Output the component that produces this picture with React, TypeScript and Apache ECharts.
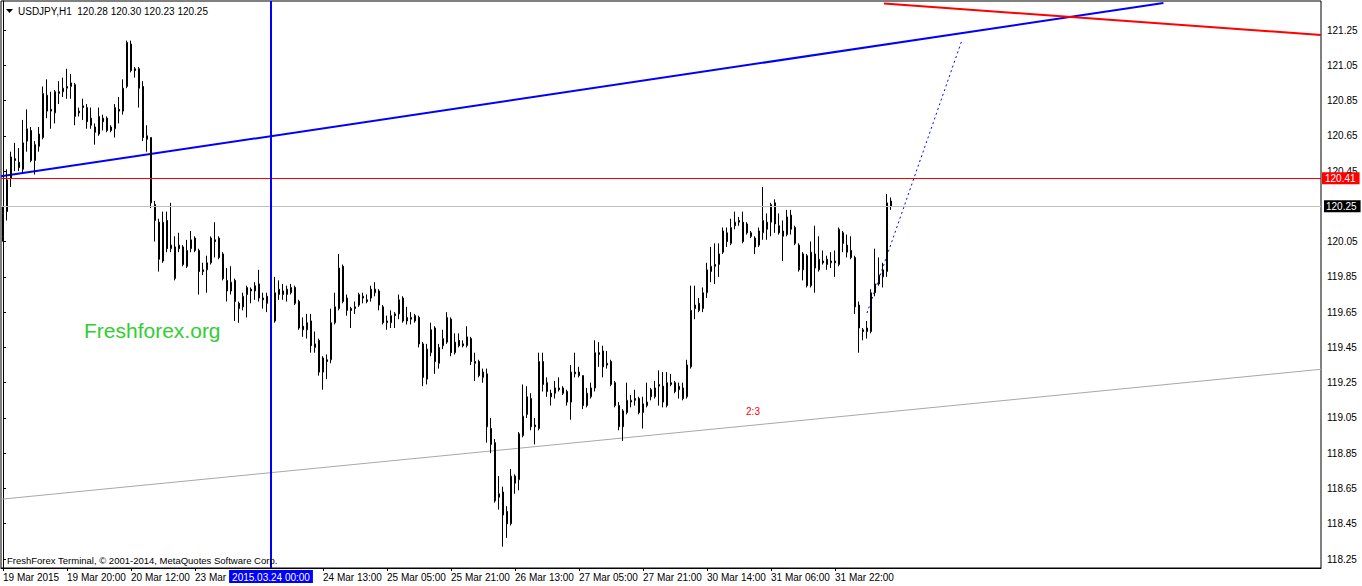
import React, { useEffect, useRef } from "react";
import * as echarts from "echarts";

// ---------- data ----------
const SYMBOL = "USDJPY,H1";
const SLOT_COUNT = 330; // visible hourly slots (chart shifted to the right)
const categories: string[] = Array.from({ length: SLOT_COUNT }, (_, i) => String(i));

// hourly candles: [open, close, low, high]
const ohlc: number[][] = [
  [120.08,120.21,120.05,120.25],[120.22,120.40,120.17,120.46],[120.41,120.53,120.36,120.56],[120.52,120.51,120.45,120.61],
  [120.50,120.47,120.45,120.58],[120.46,120.61,120.44,120.74],[120.62,120.69,120.56,120.80],[120.68,120.51,120.50,120.70],
  [120.51,120.60,120.43,120.62],[120.59,120.66,120.56,120.70],[120.64,120.89,120.63,120.93],[120.88,120.79,120.75,120.97],
  [120.80,120.79,120.69,120.90],[120.78,120.90,120.72,120.91],[120.89,120.90,120.83,120.96],[120.90,120.92,120.87,120.98],
  [120.92,120.93,120.86,121.03],[120.93,120.95,120.86,121.00],[120.94,120.76,120.71,120.95],[120.78,120.79,120.76,120.81],
  [120.82,120.81,120.74,120.86],[120.81,120.73,120.69,120.83],[120.75,120.71,120.69,120.81],[120.70,120.67,120.60,120.72],
  [120.66,120.76,120.65,120.81],[120.75,120.73,120.68,120.77],[120.75,120.68,120.67,120.76],[120.70,120.68,120.67,120.71],
  [120.69,120.81,120.64,120.83],[120.80,120.79,120.72,120.87],[120.79,120.92,120.77,120.97],[120.93,121.18,120.92,121.19],
  [121.17,121.02,121.01,121.19],[121.03,121.02,120.98,121.04],[121.03,120.92,120.81,121.04],[120.93,120.64,120.62,120.96],
  [120.65,120.63,120.56,120.71],[120.64,120.27,120.24,120.64],[120.26,120.17,120.05,120.28],[120.16,119.95,119.88,120.18],
  [119.94,120.16,119.93,120.22],[120.17,120.01,119.99,120.22],[120.01,120.03,119.99,120.27],[119.84,120.02,119.83,120.08],
  [120.03,120.01,119.99,120.10],[120.02,119.92,119.91,120.03],[119.91,120.00,119.90,120.06],[120.01,120.06,119.99,120.11],
  [120.07,120.00,119.99,120.08],[120.00,119.88,119.75,120.01],[119.89,119.88,119.86,119.93],[119.89,119.93,119.76,119.97],
  [119.93,120.07,119.92,120.08],[120.06,120.05,119.96,120.16],[120.07,119.96,119.95,120.08],[119.98,119.84,119.83,119.99],
  [119.83,119.77,119.71,119.90],[119.77,119.82,119.75,119.91],[119.83,119.71,119.60,119.84],[119.70,119.67,119.59,119.71],
  [119.68,119.74,119.66,119.76],[119.75,119.79,119.62,119.80],[119.78,119.77,119.70,119.79],[119.77,119.80,119.72,119.82],
  [119.81,119.73,119.71,119.89],[119.73,119.72,119.67,119.76],[119.74,119.70,119.65,119.76],[119.69,119.62,119.57,119.70],
  [119.60,119.76,119.59,119.85],[119.75,119.78,119.72,119.83],[119.75,119.77,119.72,119.81],[119.75,119.78,119.71,119.80],
  [119.76,119.79,119.75,119.81],[119.79,119.70,119.69,119.80],[119.71,119.56,119.55,119.72],[119.57,119.55,119.51,119.62],
  [119.55,119.59,119.50,119.64],[119.60,119.46,119.42,119.64],[119.47,119.45,119.42,119.54],[119.49,119.31,119.29,119.50],
  [119.39,119.31,119.21,119.40],[119.38,119.37,119.27,119.41],[119.38,119.59,119.36,119.67],[119.59,119.68,119.58,119.76],
  [119.67,119.90,119.66,119.98],[119.91,119.71,119.70,119.92],[119.73,119.66,119.63,119.75],[119.67,119.66,119.56,119.68],
  [119.67,119.68,119.64,119.71],[119.69,119.75,119.68,119.76],[119.74,119.73,119.70,119.76],[119.72,119.71,119.70,119.75],
  [119.73,119.78,119.71,119.80],[119.76,119.78,119.74,119.82],[119.77,119.69,119.66,119.78],[119.68,119.59,119.58,119.69],
  [119.59,119.60,119.55,119.63],[119.59,119.63,119.56,119.66],[119.64,119.63,119.56,119.65],[119.64,119.72,119.61,119.75],
  [119.73,119.60,119.59,119.74],[119.62,119.60,119.58,119.68],[119.62,119.61,119.58,119.65],[119.63,119.60,119.59,119.64],
  [119.62,119.47,119.45,119.63],[119.47,119.28,119.23,119.48],[119.27,119.44,119.24,119.47],[119.42,119.55,119.40,119.59],
  [119.56,119.37,119.30,119.57],[119.36,119.45,119.33,119.47],[119.46,119.50,119.44,119.55],[119.48,119.62,119.47,119.65],
  [119.61,119.42,119.40,119.62],[119.42,119.48,119.41,119.53],[119.49,119.46,119.45,119.53],[119.47,119.46,119.45,119.49],
  [119.46,119.51,119.45,119.57],[119.50,119.37,119.35,119.51],[119.37,119.36,119.26,119.42],[119.37,119.29,119.28,119.38],
  [119.28,119.31,119.25,119.33],[119.30,119.00,118.91,119.33],[118.99,118.90,118.85,119.05],[118.91,118.58,118.57,118.93],
  [118.60,118.62,118.53,118.72],[118.63,118.50,118.32,118.66],[118.52,118.45,118.37,118.55],[118.45,118.72,118.44,118.76],
  [118.72,118.68,118.62,118.73],[118.70,118.96,118.64,118.97],[118.95,119.06,118.94,119.24],[119.07,119.17,119.05,119.23],
  [119.16,119.00,118.98,119.19],[119.01,119.00,118.90,119.05],[118.99,119.37,118.98,119.42],[119.37,119.24,119.20,119.42],
  [119.25,119.20,119.17,119.28],[119.19,119.17,119.12,119.21],[119.19,119.22,119.16,119.26],[119.22,119.21,119.20,119.28],
  [119.22,119.19,119.18,119.23],[119.20,119.14,119.12,119.21],[119.14,119.31,119.04,119.35],[119.30,119.31,119.28,119.42],
  [119.31,119.29,119.28,119.34],[119.29,119.12,119.10,119.29],[119.12,119.19,119.11,119.22],[119.17,119.22,119.16,119.25],
  [119.22,119.42,119.20,119.49],[119.42,119.41,119.34,119.48],[119.43,119.34,119.28,119.46],[119.35,119.36,119.33,119.43],
  [119.37,119.24,119.23,119.38],[119.25,119.12,119.11,119.26],[119.12,119.00,118.98,119.14],[119.00,119.09,118.92,119.10],
  [119.08,119.15,119.07,119.25],[119.14,119.15,119.11,119.18],[119.16,119.15,119.12,119.21],[119.16,119.08,119.07,119.17],
  [119.08,119.13,118.99,119.17],[119.12,119.14,119.11,119.25],[119.21,119.17,119.15,119.22],[119.17,119.22,119.16,119.26],
  [119.23,119.24,119.12,119.32],[119.23,119.14,119.11,119.31],[119.12,119.25,119.11,119.31],[119.25,119.24,119.23,119.30],
  [119.25,119.20,119.19,119.26],[119.21,119.23,119.16,119.25],[119.22,119.16,119.15,119.25],[119.17,119.35,119.16,119.38],
  [119.34,119.66,119.33,119.80],[119.67,119.69,119.61,119.80],[119.70,119.66,119.65,119.73],[119.67,119.76,119.65,119.79],
  [119.76,119.89,119.73,119.93],[119.88,119.91,119.82,120.02],[119.92,119.91,119.81,120.04],[119.92,119.98,119.85,120.04],
  [119.99,120.11,119.98,120.13],[120.10,120.05,120.02,120.13],[120.04,120.13,120.03,120.18],[120.14,120.16,120.12,120.22],
  [120.16,120.17,120.14,120.19],[120.16,120.05,120.04,120.22],[120.15,120.10,120.09,120.16],[120.10,120.08,120.07,120.11],
  [120.07,120.02,119.98,120.08],[120.03,120.11,120.02,120.13],[120.10,120.17,120.06,120.36],[120.16,120.12,120.06,120.21],
  [120.16,120.26,120.08,120.27],[120.27,120.15,120.10,120.29],[120.14,120.10,120.09,120.21],[120.11,120.08,119.94,120.17],
  [120.09,120.19,120.08,120.23],[120.20,120.12,120.09,120.23],[120.13,120.04,120.03,120.14],[120.03,119.89,119.88,120.04],
  [119.89,119.98,119.83,119.99],[119.97,119.80,119.79,119.98],[119.80,119.99,119.79,120.05],[119.98,119.90,119.76,120.14],
  [119.89,119.95,119.88,120.08],[119.94,119.93,119.92,120.00],[119.95,119.92,119.89,119.97],[119.93,119.94,119.90,119.99],
  [119.94,119.93,119.85,120.00],[119.92,120.12,119.91,120.13],[120.10,120.04,119.99,120.11],[120.03,119.99,119.96,120.09],
  [120.00,119.96,119.95,120.08],[119.96,119.68,119.64,119.97],[119.69,119.56,119.42,119.71],[119.55,119.54,119.49,119.56],
  [119.54,119.56,119.50,119.60],[119.54,119.76,119.53,119.78],[119.76,119.81,119.74,120.01],[119.81,119.86,119.80,119.96],
  [119.85,119.89,119.79,119.93],[119.88,120.27,119.85,120.32],[120.28,120.25,120.23,120.30],
];

// time-axis labels: [slot index, label]
const timeTicks: [number, string][] = [
  [0, "19 Mar 2015"], [16, "19 Mar 20:00"], [32, "20 Mar 12:00"], [48, "23 Mar 05:00"],
  [80, "24 Mar 13:00"], [96, "25 Mar 05:00"], [112, "25 Mar 21:00"], [128, "26 Mar 13:00"],
  [144, "27 Mar 05:00"], [160, "27 Mar 21:00"], [176, "30 Mar 14:00"], [192, "31 Mar 06:00"],
  [208, "31 Mar 22:00"],
];

const priceTicks = [118.25, 118.45, 118.65, 118.85, 119.05, 119.25, 119.45, 119.65, 119.85,
  120.05, 120.25, 120.45, 120.65, 120.85, 121.05, 121.25];

// drawn objects (slot index, price)
const channelTop = [[-0.5, 120.42], [290.1, 121.403]];
const redTrend = [[220.25, 121.4], [329.5, 121.222]];
const channelBottom = [[-0.5, 118.589], [329.5, 119.326]];
const forecast = [[216, 119.645], [239.75, 121.193]];
const resistanceLevel = 120.41;
const bidLevel = 120.25;
const markerSlot = 67;
const markerLabel = "2015.03.24 00:00";
const channelNote = { slot: 187.5, price: 119.084, text: "2:3" };
const watermark = "Freshforex.org";
const copyright = "FreshForex Terminal, \u00A9 2001-2014, MetaQuotes Software Corp.";

const FONT = '"Liberation Sans", Arial, sans-serif';

export default function App() {
  const ref = useRef<HTMLDivElement>(null);
  useEffect(() => {
    if (!ref.current) return;
    const chart = echarts.init(ref.current, null, { renderer: "svg" });
    const tickMap = new Map<number, string>(timeTicks);
    const last = ohlc[ohlc.length - 1];
    const header = `${SYMBOL}  ${last[0].toFixed(2)} ${last[3].toFixed(2)} ${last[2].toFixed(2)} ${last[1].toFixed(2)}`;

    chart.setOption({
      animation: false,
      backgroundColor: "#fff",
      grid: { left: 1, right: 41, top: 1, bottom: 18, show: true, borderColor: "#000", borderWidth: 1, backgroundColor: "#fff" },
      xAxis: [
        {
          type: "category",
          data: categories,
          boundaryGap: true,
          axisLine: { lineStyle: { color: "#000", width: 1 } },
          axisTick: { show: true, alignWithLabel: true, interval: (i: number) => tickMap.has(i), length: 3, lineStyle: { color: "#000" } },
          axisLabel: {
            interval: (i: number) => tickMap.has(i),
            formatter: (_v: string, i: number) => tickMap.get(i) || "",
            align: "left",
            margin: 4,
            color: "#000",
            fontSize: 10,
            fontFamily: FONT,
          },
          splitLine: { show: false },
        },
        { type: "value", min: -0.5, max: SLOT_COUNT - 0.5, show: false },
      ],
      yAxis: {
        type: "value",
        position: "right",
        min: 118.199,
        max: 121.4145,
        axisLine: { show: true, lineStyle: { color: "#000" } },
        axisTick: { show: true, length: 3, customValues: priceTicks, lineStyle: { color: "#000" } },
        axisLabel: {
          customValues: priceTicks,
          formatter: (v: number) => v.toFixed(2),
          margin: 6,
          color: "#000",
          fontSize: 10,
          fontFamily: FONT,
        },
        splitLine: { show: false },
      },
      series: [
        {
          type: "line", name: "channelTop", xAxisIndex: 1, data: channelTop, symbol: "none", silent: true, z: 1,
          lineStyle: { color: "#0000ff", width: 2 },
        },
        {
          type: "line", name: "redTrend", xAxisIndex: 1, data: redTrend, symbol: "none", silent: true, z: 1,
          lineStyle: { color: "#ff0000", width: 2 },
        },
        {
          type: "line", name: "channelBottom", xAxisIndex: 1, data: channelBottom, symbol: "none", silent: true, z: 1,
          lineStyle: { color: "#a8a8a8", width: 1 },
          markLine: {
            silent: true, symbol: "none",
            data: [
              {
                yAxis: resistanceLevel,
                lineStyle: { color: "#ff0000", width: 1, type: "solid" },
                label: { show: true, position: "end", distance: 1, formatter: resistanceLevel.toFixed(2), color: "#fff", backgroundColor: "#ff0000", padding: [1, 4, 1, 3], fontSize: 10, fontFamily: FONT },
              },
              {
                yAxis: bidLevel,
                lineStyle: { color: "#c0c0c0", width: 1, type: "solid" },
                label: { show: true, position: "end", distance: 3, formatter: bidLevel.toFixed(2), color: "#fff", backgroundColor: "#000", padding: [1, 4, 1, 2], fontSize: 10, fontFamily: FONT },
              },
            ],
          },
        },
        {
          type: "line", name: "forecast", xAxisIndex: 1, data: forecast, symbol: "none", silent: true, z: 1,
          lineStyle: { color: "#0000ff", width: 1, type: [2, 3] },
        },
        {
          type: "candlestick", name: "USDJPY", data: ohlc, barWidth: 2, z: 3, silent: true,
          itemStyle: { color: "#fff", color0: "#000", borderColor: "#000", borderColor0: "#000", borderWidth: 1 },
        },
        {
          type: "line", name: "marker", xAxisIndex: 1, data: [], z: 5, silent: true,
          markLine: {
            silent: true, symbol: "none",
            data: [
              {
                xAxis: markerSlot,
                lineStyle: { color: "#0000ff", width: 2, type: "solid" },
                label: { show: true, position: "start", distance: 2, formatter: markerLabel, color: "#fff", backgroundColor: "#0000ff", padding: [2, 3, 1, 3], fontSize: 10, fontFamily: FONT },
              },
            ],
          },
        },
      ],
      graphic: [
        { id: "tri", type: "polygon", z: 10, shape: { points: [[6, 9], [13, 9], [9.5, 13]] }, style: { fill: "#000" } },
        { id: "header", type: "text", z: 10, x: 18, y: 11, style: { text: header, fill: "#000", fontSize: 10, fontFamily: FONT, verticalAlign: "middle", align: "left" } },
        { id: "copy", type: "text", z: 10, x: 7, y: 560, style: { text: copyright, fill: "#000", fontSize: 9.5, fontFamily: FONT, verticalAlign: "middle", align: "left" } },
        { id: "wm", type: "text", z: 10, x: 84, y: 330, style: { text: watermark, fill: "#32cd32", fontSize: 21, fontFamily: FONT, verticalAlign: "middle", align: "left" } },
      ],
    });

    // channel note placed through the chart's own scales
    const p = chart.convertToPixel({ xAxisIndex: 1, yAxisIndex: 0 }, [channelNote.slot, channelNote.price]) as number[];
    chart.setOption({
      graphic: [
        { id: "note", type: "text", z: 10, x: p[0], y: p[1], style: { text: channelNote.text, fill: "#ff0000", fontSize: 10, fontFamily: FONT, verticalAlign: "middle", align: "center" } },
      ],
    });

    return () => chart.dispose();
  }, []);

  return <div ref={ref} style={{ position: "fixed", left: 0, top: 0, width: 1362, height: 586, background: "#fff" }} />;
}
